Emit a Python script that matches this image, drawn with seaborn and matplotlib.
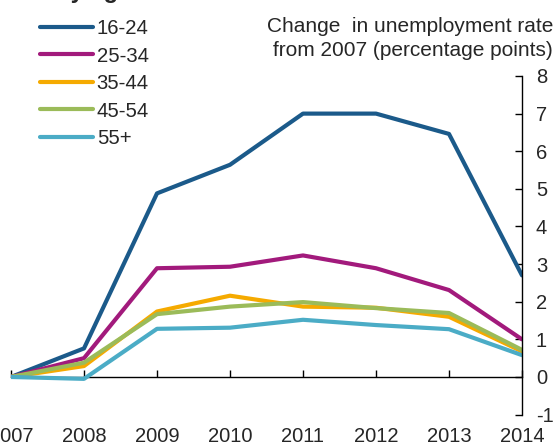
import matplotlib
matplotlib.use('Agg')
import matplotlib.pyplot as plt
import seaborn as sns
import pandas as pd

years = [2007, 2008, 2009, 2010, 2011, 2012, 2013, 2014]
age_groups = ['16-24', '25-34', '35-44', '45-54', '55+']
v_16_24 = [0.0, 0.76, 4.88, 5.64, 7.0, 7.0, 6.46, 2.7]
v_25_34 = [0.0, 0.5, 2.89, 2.93, 3.23, 2.89, 2.31, 1.0]
v_35_44 = [0.0, 0.29, 1.74, 2.16, 1.87, 1.84, 1.6, 0.68]
v_45_54 = [0.0, 0.38, 1.67, 1.87, 1.99, 1.83, 1.7, 0.72]
v_55_plus = [0.0, -0.05, 1.28, 1.31, 1.52, 1.38, 1.27, 0.58]
colors = ['#1b5a8a', '#a21a7c', '#f5aa00', '#9bbb59', '#4bacc6']

series = [v_16_24, v_25_34, v_35_44, v_45_54, v_55_plus]
df = pd.concat([pd.DataFrame({'year': years, 'value': s, 'age': a})
                for a, s in zip(age_groups, series)], ignore_index=True)

sns.set_theme(style='white')
plt.rcParams['font.family'] = ['Liberation Sans', 'DejaVu Sans']
plt.rcParams['axes.unicode_minus'] = False

fig = plt.figure(figsize=(5.6, 4.47), dpi=100)
ax = fig.add_axes([11/560, 0.0725, 511/560, 0.7575])

sns.lineplot(data=df, x='year', y='value', hue='age', hue_order=age_groups,
             palette=dict(zip(age_groups, colors)), linewidth=3,
             ax=ax, legend=True)

ax.set_xlim(2007, 2014)
ax.set_ylim(-1, 8)
ax.set_xticks(years)
ax.set_xticklabels([str(y) for y in years])
ax.set_yticks(range(-1, 9))
ax.set_xlabel('')
ax.set_ylabel('')

# y axis on the right, x axis line at zero
ax.yaxis.tick_right()
for s in ['left', 'top']:
    ax.spines[s].set_visible(False)
ax.spines['right'].set_color('black')
ax.spines['right'].set_linewidth(1)
ax.spines['bottom'].set_position(('data', 0))
ax.spines['bottom'].set_color('black')
ax.spines['bottom'].set_linewidth(1)
ax.spines['bottom'].set_zorder(1)
ax.tick_params(axis='y', direction='in', length=5, width=1, color='black',
               labelsize=14.5, pad=10, right=True, left=False)
ax.tick_params(axis='x', direction='in', length=5, width=1, color='black',
               labelsize=14.5, pad=36, bottom=True)

handles, labels = ax.get_legend_handles_labels()
ax.legend(handles, labels, loc='upper left', bbox_to_anchor=(40/560, 1 - 19/447),
          bbox_transform=fig.transFigure, frameon=False, fontsize=14.6,
          handlelength=2.6, handletextpad=0.2, labelspacing=0.42,
          borderpad=0, borderaxespad=0)

fig.text(553/560, 1 - 17/447,
         'Change  in unemployment rate\nfrom 2007 (percentage points)',
         ha='right', va='top', fontsize=15, linespacing=1.3,
         multialignment='right')
fig.text(131/560, 1 + 2/447, 'Unemployment by age', ha='right',
         va='baseline', fontsize=17, fontweight='bold')

fig.savefig('out.png', dpi=100)
